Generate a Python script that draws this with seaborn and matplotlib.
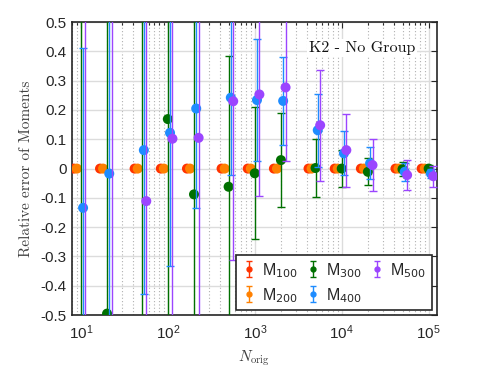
import numpy as np
import pandas as pd
import matplotlib
matplotlib.use("Agg")
import matplotlib.pyplot as plt
import seaborn as sns
from matplotlib.ticker import LogLocator, FixedLocator, NullFormatter

# ---- data ----
N_orig = [10, 20, 50, 100, 200, 500, 1000, 2000, 5000, 10000, 20000, 50000, 100000]
series = ["M100", "M200", "M300", "M400", "M500"]
labels = [r"M$_{100}$", r"M$_{200}$", r"M$_{300}$", r"M$_{400}$", r"M$_{500}$"]

m100 = [0, 0, 0, 0, 0, 0, 0, 0, 0, 0, 0, 0, 0]
m100_err = [0.003] * 13
m200 = [0, 0, 0, 0, 0, 0, 0, 0, 0, 0, 0, 0, 0]
m200_err = [0.003] * 13
m300 = [0.8, -0.495, 0.75, 0.169, -0.088, -0.062, -0.016, 0.029, 0.002, 0.0, -0.011, -0.002, 0.0]
m300_err = [1.5, 1.5, 1.5, 0.8, 0.9, 0.446, 0.225, 0.16, 0.1, 0.062, 0.046, 0.024, 0.012]
m400 = [-0.134, -0.017, 0.063, 0.122, 0.205, 0.242, 0.234, 0.231, 0.131, 0.052, 0.018, -0.011, -0.017]
m400_err = [0.545, 1.0, 0.49, 0.454, 0.34, 0.264, 0.207, 0.15, 0.125, 0.075, 0.055, 0.03, 0.016]
m500 = [0.9, 0.9, -0.111, 0.102, 0.105, 0.23, 0.253, 0.277, 0.148, 0.063, 0.012, -0.022, -0.026]
m500_err = [1.8, 1.8, 0.8, 0.8, 0.8, 0.542, 0.347, 0.25, 0.19, 0.125, 0.09, 0.05, 0.036]

values = [m100, m200, m300, m400, m500]
errors = [m100_err, m200_err, m300_err, m400_err, m500_err]
x_shift = [0.83, 0.9, 1.0, 1.06, 1.13]
colors = ["#FF3300", "#FF8000", "#007000", "#1E8CFF", "#9B45FF"]

rows = []
for s, v, e, f in zip(series, values, errors, x_shift):
    for n, yv, ev in zip(N_orig, v, e):
        rows.append({"series": s, "x": n * f, "y": yv, "err": ev})
df = pd.DataFrame(rows)

# ---- style ----
sns.set_style("white")
plt.rcParams["font.family"] = ["Liberation Sans", "DejaVu Sans"]
plt.rcParams["axes.unicode_minus"] = False

fig = plt.figure(figsize=(4.93, 3.81), dpi=100)
ax = fig.add_axes([0.146, 0.173, 0.740, 0.769])
ax.set_xscale("log")

handles = []
for i, (s, c) in enumerate(zip(series, colors)):
    d = df[df["series"] == s]
    ax.errorbar(d["x"], d["y"], yerr=d["err"], fmt="none", ecolor=c,
                elinewidth=1.0, capsize=3, capthick=1.0, zorder=2 + 2 * i)
    sns.scatterplot(data=d, x="x", y="y", color=c, s=52, edgecolor="none",
                    linewidth=0, ax=ax, legend=False, zorder=3 + 2 * i)
    h = ax.errorbar([np.nan], [np.nan], yerr=[np.nan], fmt="o", color=c,
                    ms=3.5, elinewidth=1.0, capsize=2, capthick=1.0)
    handles.append(h)

ax.set_xlim(7.9, 1.24e5)
ax.set_ylim(-0.5, 0.5)

ax.xaxis.set_major_locator(FixedLocator([1e1, 1e2, 1e3, 1e4, 1e5]))
ax.xaxis.set_minor_locator(LogLocator(base=10, subs=np.arange(2, 10), numticks=20))
ax.xaxis.set_minor_formatter(NullFormatter())
yt = [-0.5, -0.4, -0.3, -0.2, -0.1, 0, 0.1, 0.2, 0.3, 0.4, 0.5]
ax.set_yticks(yt)
ax.set_yticklabels(["-0.5", "-0.4", "-0.3", "-0.2", "-0.1", "0", "0.1", "0.2", "0.3", "0.4", "0.5"])

ax.grid(True, which="major", axis="both", color="#dcdcdc", linewidth=1.0, linestyle="-", zorder=0)
ax.grid(True, which="minor", axis="x", color="#b0b0b0", linewidth=0.8, linestyle=(0, (1, 2)), zorder=0)
ax.set_axisbelow(True)

ax.tick_params(axis="both", which="both", direction="in", top=True, right=True,
               colors="#262626", labelsize=11, width=0.8)
ax.tick_params(axis="both", which="major", length=4)
ax.tick_params(axis="x", which="minor", length=2.5)
ax.tick_params(axis="x", which="major", pad=6)
ax.tick_params(axis="y", which="major", pad=4)
for sp in ax.spines.values():
    sp.set_color("#262626")
    sp.set_linewidth(1.2)

ax.set_xlabel(r"$N_{\mathrm{orig}}$", fontsize=11, color="#404040", math_fontfamily="cm")
ax.set_ylabel("Relative error of Moments", fontsize=11, color="#404040", fontfamily="cmr10")
ax.xaxis.set_label_coords(0.5, -0.115)
ax.yaxis.set_label_coords(-0.108, 0.5)

ax.text(0.94, 0.911, "K2 - No Group", transform=ax.transAxes, ha="right", va="center",
        fontsize=11.5, fontfamily="cmr10", color="#111111", zorder=20,
        bbox=dict(facecolor="white", edgecolor="none", pad=1.5))

leg = ax.legend(handles, labels, ncol=3, loc="lower right", fontsize=11.5,
                frameon=True, fancybox=False, edgecolor="#262626", framealpha=1,
                borderaxespad=0.3, handlelength=0.9, handletextpad=0.4,
                columnspacing=0.45, labelspacing=0.4, borderpad=0.35)
leg.get_frame().set_linewidth(1.2)
leg.set_zorder(30)

fig.savefig("out.png", dpi=100)
